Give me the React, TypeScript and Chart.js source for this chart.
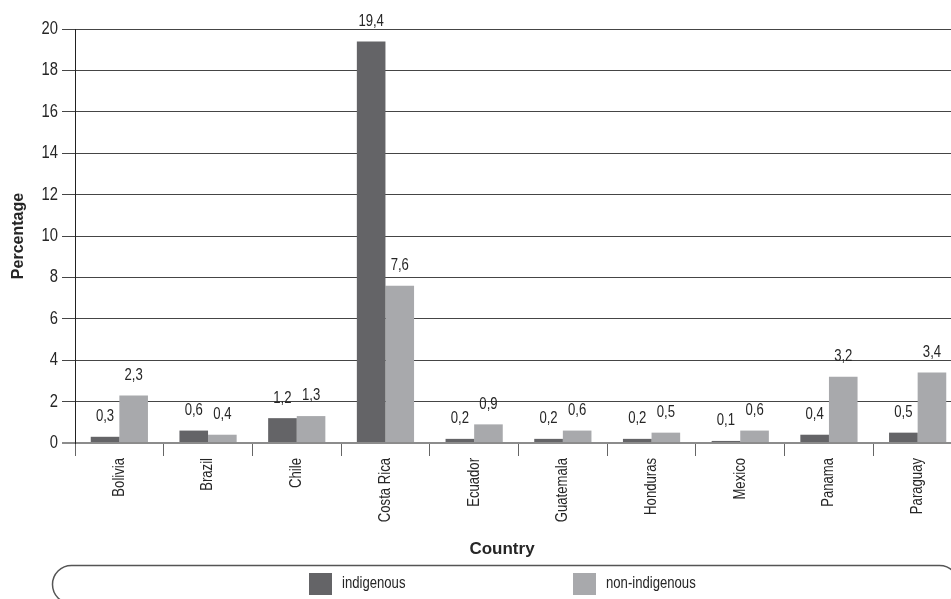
import { useEffect, useRef } from 'react';
import { Chart, registerables } from 'chart.js';

Chart.register(...registerables);

const categories = ['Bolivia', 'Brazil', 'Chile', 'Costa Rica', 'Ecuador', 'Guatemala', 'Honduras', 'Mexico', 'Panama', 'Paraguay'];
const indigenous = [0.3, 0.6, 1.2, 19.4, 0.2, 0.2, 0.2, 0.1, 0.4, 0.5];
const nonIndigenous = [2.3, 0.4, 1.3, 7.6, 0.9, 0.6, 0.5, 0.6, 3.2, 3.4];
const seriesNames = ['indigenous', 'non-indigenous'];
const xTitle = 'Country';
const yTitle = 'Percentage';
const yMin = 0;
const yMax = 20;
const yStep = 2;

const SANS = '"Liberation Sans", Arial, sans-serif';
const NARROW_FACTOR = 0.82;
const TEXT = '#262626';

// draw text horizontally condensed (emulating Arial Narrow)
function narrowText(ctx: any, text: string, x: number, y: number, size: number, align: string, rot = 0) {
  ctx.save();
  ctx.translate(x, y);
  if (rot) ctx.rotate(rot);
  ctx.scale(NARROW_FACTOR, 1);
  ctx.font = size + 'px ' + SANS;
  ctx.fillStyle = TEXT;
  ctx.textAlign = align;
  ctx.textBaseline = 'middle';
  ctx.fillText(text, 0, 0);
  ctx.restore();
}

const valueLabels = {
  id: 'valueLabels',
  afterDatasetsDraw(chart: any) {
    const ctx = chart.ctx;
    chart.data.datasets.forEach((ds: any, i: number) => {
      const meta = chart.getDatasetMeta(i);
      meta.data.forEach((bar: any, j: number) => {
        const v = ds.data[j] as number;
        narrowText(ctx, v.toFixed(1).replace('.', ','), bar.x, bar.y - 20, 16, 'center');
      });
    });
  },
};

const narrowTicks = {
  id: 'narrowTicks',
  afterDraw(chart: any) {
    const ctx = chart.ctx;
    const ys = chart.scales.y;
    ys.ticks.forEach((t: any) => {
      narrowText(ctx, String(t.value), ys.right - 13 - 4, ys.getPixelForValue(t.value), 18, 'right');
    });
    const xs = chart.scales.x;
    (chart.data.labels as string[]).forEach((lab: string, i: number) => {
      narrowText(ctx, lab, xs.getPixelForValue(i), xs.top + 13 + 2, 16, 'right', -Math.PI / 2);
    });
    // axis titles
    ctx.save();
    ctx.fillStyle = TEXT;
    ctx.textAlign = 'center';
    ctx.textBaseline = 'middle';
    ctx.font = 'bold 17px ' + SANS;
    ctx.fillText(xTitle, 502, 549);
    ctx.translate(19, (ys.top + ys.bottom) / 2);
    ctx.rotate(-Math.PI / 2);
    ctx.font = 'bold 16px ' + SANS;
    ctx.fillText(yTitle, 0, 0);
    ctx.restore();
  },
};

const boxLegend = {
  id: 'boxLegend',
  afterDraw(chart: any) {
    const ctx = chart.ctx;
    ctx.save();
    ctx.strokeStyle = '#555';
    ctx.lineWidth = 1.5;
    ctx.beginPath();
    ctx.roundRect(52.5, 565.5, 906, 38, 19);
    ctx.stroke();
    ctx.restore();
    const xs = [309, 573];
    chart.data.datasets.forEach((ds: any, i: number) => {
      ctx.save();
      ctx.fillStyle = ds.backgroundColor;
      ctx.fillRect(xs[i], 573, 23, 22);
      ctx.restore();
      narrowText(ctx, ds.label, xs[i] + 33, 584, 16, 'left');
    });
  },
};

export default function App() {
  const canvasRef = useRef<HTMLCanvasElement | null>(null);

  useEffect(() => {
    if (!canvasRef.current) return;
    const chart = new Chart(canvasRef.current, {
      type: 'bar',
      data: {
        labels: categories,
        datasets: [
          {
            label: seriesNames[0],
            data: indigenous,
            backgroundColor: '#646467',
            categoryPercentage: 0.645,
            barPercentage: 1,
          },
          {
            label: seriesNames[1],
            data: nonIndigenous,
            backgroundColor: '#a8a9ac',
            categoryPercentage: 0.645,
            barPercentage: 1,
          },
        ],
      },
      options: {
        animation: false,
        responsive: true,
        maintainAspectRatio: false,
        layout: { padding: { left: 0, right: 0, top: 29, bottom: 40 } },
        plugins: {
          legend: { display: false },
          tooltip: { enabled: false },
        },
        scales: {
          x: {
            offset: true,
            afterFit: (scale: any) => {
              scale.height = 116;
            },
            grid: {
              display: true,
              offset: true,
              drawOnChartArea: false,
              drawTicks: true,
              tickLength: 13,
              color: '#666',
              lineWidth: 1,
            },
            border: { display: false },
            ticks: { display: false, autoSkip: false },
            title: { display: false, text: xTitle },
          },
          y: {
            min: yMin,
            max: yMax,
            afterFit: (scale: any) => {
              scale.width = 75;
            },
            ticks: { display: false, stepSize: yStep },
            grid: {
              drawTicks: true,
              tickLength: 13,
              color: (c: any) => (c.tick && c.tick.value === 0 ? '#8c8c8c' : '#454545'),
              lineWidth: (c: any) => (c.tick && c.tick.value === 0 ? 2 : 1),
            },
            border: { display: true, color: '#222', width: 1 },
            title: { display: false, text: yTitle },
          },
        },
      },
      plugins: [valueLabels, narrowTicks, boxLegend],
    });
    return () => chart.destroy();
  }, []);

  return (
    <div style={{ position: 'fixed', left: 0, top: 0, width: 951, height: 599, overflow: 'hidden', background: '#fff' }}>
      <div style={{ position: 'relative', width: 962, height: 599 }}>
        <canvas ref={canvasRef} />
      </div>
    </div>
  );
}
